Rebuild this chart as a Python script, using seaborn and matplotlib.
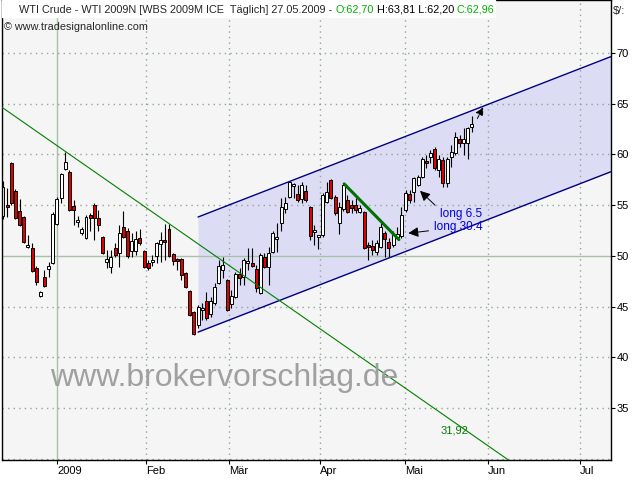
import numpy as np
import pandas as pd
import matplotlib
matplotlib.use('Agg')
import matplotlib.pyplot as plt
import seaborn as sns

# ==========================================
# Data (daily bars, WTI 2009N)
# ==========================================
opens = [53.9, 55.0, 59.2, 56.4, 54.4, 53.8, 50.9, 50.8, 48.8, 46.0,
         47.9, 48.7, 49.3, 53.1, 55.7, 58.6, 58.3, 54.9, 53.3, 52.3,
         51.8, 54.0, 55.0, 53.7, 51.9, 49.4, 48.9, 50.8, 50.3, 52.8,
         52.5, 50.5, 50.5, 51.8, 50.5, 49.3, 49.4, 50.0, 51.2, 51.6,
         52.6, 50.2, 49.7, 49.7, 48.3, 46.5, 44.5, 43.2, 44.7, 45.5,
         44.3, 45.4, 47.3, 48.6, 47.6, 45.3, 45.9, 48.2, 47.9, 49.3,
         49.3, 48.7, 46.3, 49.9, 48.9, 50.4, 51.7, 53.2, 54.6, 55.8,
         56.9, 56.1, 55.6, 56.4, 54.8, 52.4, 51.9, 52.1, 55.3, 57.5,
         55.8, 53.2, 54.6, 55.5, 55.0, 55.0, 54.3, 54.3, 51.1, 51.0,
         50.4, 50.9, 52.3, 51.4, 51.1, 51.9, 52.0, 54.5, 56.1, 56.3,
         57.0, 57.8, 59.4, 59.7, 60.5, 58.5, 59.5, 57.2, 59.7, 60.1,
         61.5, 61.1, 61.1, 62.70]
highs = [57.4, 56.7, 59.3, 56.6, 55.6, 53.9, 52.1, 51.3, 49.0, 46.5,
         48.6, 49.4, 54.3, 55.8, 58.2, 60.2, 58.5, 55.5, 53.9, 52.8,
         54.0, 54.2, 55.2, 54.5, 52.0, 50.6, 50.6, 51.3, 53.0, 54.4,
         52.7, 52.3, 52.5, 52.6, 50.6, 49.6, 50.1, 51.4, 52.4, 53.1,
         53.1, 50.3, 49.8, 49.8, 48.4, 46.6, 44.6, 45.2, 45.4, 46.4,
         45.9, 47.3, 49.6, 49.9, 47.7, 46.6, 48.4, 48.8, 49.8, 50.8,
         50.8, 49.1, 50.3, 50.3, 50.9, 52.5, 53.2, 55.7, 55.8, 57.4,
         57.2, 57.0, 57.3, 57.0, 54.9, 53.0, 52.0, 56.2, 57.3, 57.6,
         56.0, 55.3, 57.1, 56.0, 55.5, 55.7, 55.0, 54.4, 51.4, 51.6,
         51.6, 53.2, 52.5, 51.8, 52.5, 52.8, 54.8, 56.5, 56.5, 57.8,
         58.0, 59.7, 59.9, 60.4, 60.7, 59.9, 59.7, 59.7, 60.9, 62.2,
         61.9, 62.6, 62.7, 63.81]
lows = [53.6, 53.8, 55.0, 53.6, 52.9, 51.3, 50.8, 48.4, 47.1, 45.9,
        46.9, 47.9, 49.2, 53.0, 55.2, 58.5, 54.4, 53.0, 52.8, 52.1,
        51.7, 52.5, 51.6, 52.5, 50.2, 48.8, 48.3, 49.9, 48.9, 51.8,
        49.8, 49.9, 50.1, 51.1, 48.8, 48.6, 49.0, 49.3, 49.4, 49.6,
        49.9, 49.1, 48.6, 47.6, 46.8, 44.1, 42.2, 42.9, 43.7, 43.7,
        44.0, 45.2, 47.2, 47.8, 44.6, 44.9, 45.8, 47.1, 47.1, 48.6,
        48.9, 46.4, 46.2, 48.8, 47.1, 50.3, 50.4, 52.5, 54.2, 55.7,
        55.7, 55.3, 55.2, 55.3, 51.6, 51.1, 50.7, 51.9, 55.2, 55.6,
        54.0, 52.2, 54.4, 54.2, 54.2, 54.2, 54.2, 50.7, 49.6, 50.1,
        50.1, 50.8, 49.9, 49.9, 50.9, 51.8, 51.8, 54.3, 55.2, 55.3,
        56.9, 57.7, 58.7, 59.2, 58.5, 57.8, 56.8, 56.8, 58.8, 59.9,
        60.7, 59.9, 59.6, 62.20]
closes = [56.8, 54.8, 55.2, 53.7, 53.0, 51.4, 51.1, 48.5, 47.4, 46.4,
          47.0, 49.0, 54.1, 55.6, 58.1, 59.3, 54.5, 54.5, 53.5, 52.6,
          53.8, 53.7, 53.7, 53.0, 50.3, 49.7, 49.9, 50.1, 52.3, 51.9,
          50.0, 51.5, 51.7, 51.3, 48.9, 48.8, 49.6, 51.3, 51.6, 51.4,
          50.0, 49.5, 49.5, 48.1, 46.9, 44.2, 42.3, 45.0, 44.9, 43.9,
          45.5, 46.9, 49.0, 49.1, 44.7, 46.0, 48.2, 47.8, 49.6, 49.5,
          49.0, 46.8, 50.1, 48.9, 50.3, 52.3, 51.8, 54.8, 55.2, 57.3,
          57.1, 55.5, 57.0, 55.5, 52.0, 52.5, 52.0, 56.0, 56.3, 55.7,
          54.2, 54.8, 57.0, 54.3, 54.7, 54.5, 54.7, 50.8, 50.9, 50.6,
          51.3, 52.8, 51.7, 50.8, 52.1, 52.2, 54.0, 56.2, 55.5, 57.7,
          57.8, 59.6, 59.2, 60.1, 58.7, 59.6, 57.2, 59.6, 60.2, 61.7,
          61.1, 61.5, 62.6, 62.96]

# month ticks (bar index positions)
month_pos = [13, 34.5, 54.5, 76.4, 96.9, 116.9, 139]
month_labels = ['2009', 'Feb', 'Mär', 'Apr', 'Mai', 'Jun', 'Jul']
price_ticks = [35, 40, 45, 50, 55, 60, 65, 70]

# long-term downtrend line (green)
trend_start = 64.58
trend_slope = -0.285
# short downtrend (thick green)
trend2_x = [82.2, 95.4]
trend2_y = [57.1, 51.6]
# regression channel
chan_start = 47
chan_top0 = 53.83
chan_slope = 0.159
chan_width = 11.35

x_min, x_max = -0.24, 146.5
y_min, y_max = 29.87, 75.23

# ==========================================
# Plot
# ==========================================
sns.set_style('white')
plt.rcParams['font.family'] = ['Liberation Sans', 'DejaVu Sans']

df = pd.DataFrame({'Open': opens, 'High': highs, 'Low': lows, 'Close': closes})
df['i'] = np.arange(len(df))
df['up'] = df['Close'] >= df['Open']

fig = plt.figure(figsize=(6.4, 4.8), dpi=100)
ax = fig.add_axes([2 / 640, 20 / 480, 609 / 640, 460 / 480])
ax.set_facecolor('#f5f5f5')
ax.set_xlim(x_min, x_max)
ax.set_ylim(y_min, y_max)

# channel fill + borders
cx = np.array([chan_start, x_max])
upper = chan_top0 + chan_slope * (cx - chan_start)
lower = upper - chan_width
ax.fill_between(cx, lower, upper, color='#dcdcf5', lw=0, zorder=1)
sns.lineplot(x=cx, y=upper, color='#000080', lw=1, ax=ax, zorder=3)
sns.lineplot(x=cx, y=lower, color='#000080', lw=1, ax=ax, zorder=3)

# grid
dots = (0, (1, 3))
for p in price_ticks + [30]:
    if p == 50:
        ax.axhline(p, color='#a9c0a9', lw=1, zorder=1.5)
    else:
        ax.axhline(p, color='#90a890', lw=1, ls=dots, zorder=1.5)
for m in month_pos:
    if m == month_pos[0]:
        ax.axvline(m, color='#a9c0a9', lw=1, zorder=1.5)
    else:
        ax.axvline(m, color='#90a890', lw=1, ls=dots, zorder=1.5)

# candles
ax.vlines(df['i'], df['Low'], df['High'], color='black', lw=0.8, zorder=2)
body_bottom = df[['Open', 'Close']].min(axis=1)
body_h = (df['Close'] - df['Open']).abs().clip(lower=0.12)
ax.bar(df['i'], body_h, bottom=body_bottom, width=0.72,
       color=np.where(df['up'], 'white', '#e00000'),
       edgecolor='black', linewidth=0.7, zorder=2.5)

# long downtrend
tx = np.array([x_min, x_max])
sns.lineplot(x=tx, y=trend_start + trend_slope * tx, color='#008000', lw=0.8,
             ax=ax, zorder=4)
ax.text(108.9, 32.8, '31,92', color='#008000', fontsize=8, ha='center', va='center')

# short downtrend
sns.lineplot(x=trend2_x, y=trend2_y, color='#007000', lw=2.2, ax=ax, zorder=4)

# signal arrows
arrow = dict(arrowstyle='-|>', color='black', lw=0.7, mutation_scale=15)
ax.annotate('', xy=(97.0, 52.2), xytext=(103.2, 52.5), arrowprops=arrow, zorder=5)
ax.text(103.8, 52.8, 'long 30.4', color='#0000e0', fontsize=8.5, va='center', ha='left')
ax.annotate('', xy=(100.0, 56.6), xytext=(104.6, 54.8), arrowprops=arrow, zorder=5)
ax.text(105.4, 54.1, 'long 6.5', color='#0000e0', fontsize=8.5, va='center', ha='left')
ax.annotate('', xy=(116.0, 64.9), xytext=(114.0, 63.3),
            arrowprops=dict(arrowstyle='-|>', color='black', lw=0.7, ls='--',
                            mutation_scale=12), zorder=5)

# axes, ticks
ax.yaxis.tick_right()
ax.set_yticks(price_ticks)
ax.set_yticklabels([str(p) for p in price_ticks], fontsize=8)
ax.set_xticks(month_pos)
ax.set_xticklabels(month_labels, fontsize=8, ha='left')
ax.tick_params(axis='both', direction='out', length=3, width=0.8, pad=1,
               colors='black', bottom=True, right=True)
ax.set_xlabel('')
ax.set_ylabel('')
for s in ax.spines.values():
    s.set_color('black')
    s.set_linewidth(1)

# header
ax.add_patch(plt.Rectangle((0, (460 - 17) / 460), 493 / 609, 17 / 460,
                           transform=ax.transAxes, color='white', zorder=6))
t = fig.text(19 / 640, 1 - 10 / 480,
             'WTI Crude - WTI 2009N [WBS 2009M ICE  Täglich] 27.05.2009 - ',
             fontsize=7.8, va='center', ha='left', zorder=7)
parts = [('O:62,70', '#00b000'), (' H:63,81 L:62,20 ', 'black'), ('C:62,96', '#00b000')]
prev = t
for txt, col in parts:
    prev = ax.annotate(txt, xy=(1, 0), xycoords=prev, va='bottom', ha='left',
                       fontsize=7.8, color=col, zorder=7, annotation_clip=False)
fig.text(4 / 640, 1 - 27 / 480, '© www.tradesignalonline.com', fontsize=7.8,
         va='center', ha='left')
fig.text(613 / 640, 1 - 11 / 480, '$/:', fontsize=8, va='center', ha='left')

# watermark
fig.text(224 / 640, 1 - 378 / 480, 'www.brokervorschlag.de', fontsize=23,
         color='#a0a0a0', ha='center', va='center')

fig.savefig('out.png', dpi=100)
